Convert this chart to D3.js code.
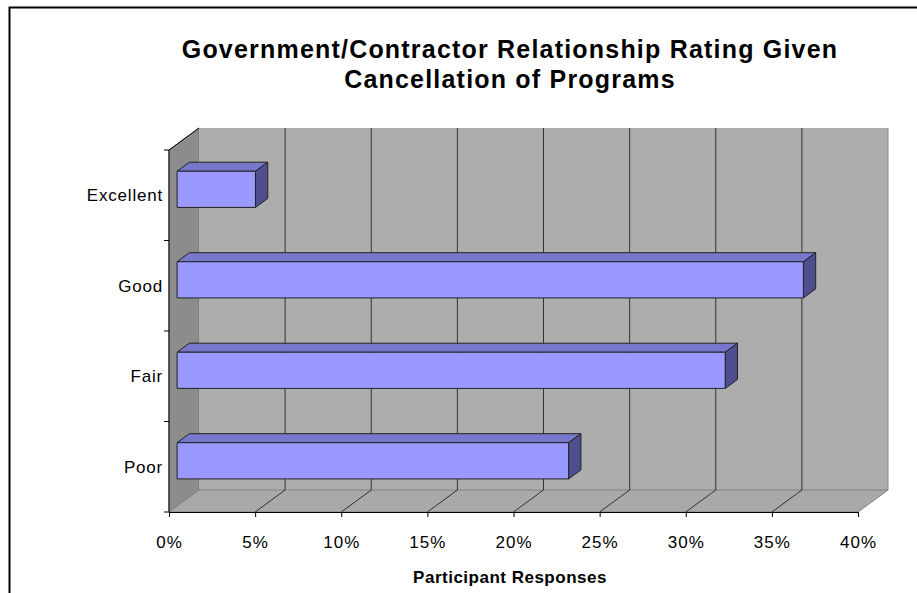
<!DOCTYPE html>
<html>
<head>
<meta charset="utf-8">
<script src="https://cdn.jsdelivr.net/npm/d3@7"></script>
<style>
  body { margin: 0; background: #fff; }
  svg text { font-family: "Liberation Sans", Arial, sans-serif; fill: #000; }
</style>
</head>
<body>
<div class="chart"></div>
<script>
// survey data
var categories = ["Excellent", "Good", "Fair", "Poor"];
var values = [0.0455, 0.3636, 0.3182, 0.2273];
var tickValues = [0, 0.05, 0.10, 0.15, 0.20, 0.25, 0.30, 0.35, 0.40];
var titleLines = ["Government/Contractor Relationship Rating Given", "Cancellation of Programs"];
var axisTitle = "Participant Responses";

var width = 917, height = 593;
var DX = 30, DY = -22;        // depth of the 3d box
var barD0 = 0.27, barD1 = 0.68; // bar depth, as fraction of box depth

var svg = d3.select(".chart").append("svg")
	.attr("width", width)
	.attr("height", height);

var x = d3.scaleLinear().domain([0, 0.4]).range([169, 858]);
var y = d3.scaleBand().domain(categories).range([150, 512]).paddingInner(0).paddingOuter(0);
var barH = y.bandwidth() * 0.4;

function pt(px, py, d) { return [px + d * DX, py + d * DY]; }
function poly(points) { return points.map(function(p){ return p.join(","); }).join(" "); }

// outer frame
svg.append("path")
	.attr("d", "M9.5,593 L9.5,7.5 L917,7.5")
	.attr("fill", "none")
	.attr("stroke", "#000")
	.attr("stroke-width", 2);

var x0 = x.range()[0], x1 = x.range()[1];
var yTop = y.range()[0], yBot = y.range()[1];

// walls
svg.append("polygon")
	.attr("points", poly([pt(x0, yTop, 0), pt(x0, yTop, 1), pt(x0, yBot, 1), pt(x0, yBot, 0)]))
	.attr("fill", "#8c8c8c")
	.attr("stroke", "#777");

svg.append("polygon")
	.attr("points", poly([pt(x0, yTop, 1), pt(x1, yTop, 1), pt(x1, yBot, 1), pt(x0, yBot, 1)]))
	.attr("fill", "#adadad");

svg.append("polygon")
	.attr("points", poly([pt(x0, yBot, 0), pt(x1, yBot, 0), pt(x1, yBot, 1), pt(x0, yBot, 1)]))
	.attr("fill", "#a9a9a9")
	.attr("stroke", "#808080");

// gridlines on the back wall and floor
svg.selectAll(".grid")
	.data(tickValues.slice(1, -1))
	.enter()
	.append("line")
	.attr("class", "grid")
	.attr("x1", function(d){ return x(d) + DX; })
	.attr("x2", function(d){ return x(d) + DX; })
	.attr("y1", yTop + DY)
	.attr("y2", yBot + DY)
	.attr("stroke", "#333");

svg.append("line")
	.attr("x1", x1 + DX).attr("x2", x1 + DX)
	.attr("y1", yTop + DY).attr("y2", yBot + DY)
	.attr("stroke", "#888");

svg.selectAll(".floor")
	.data(tickValues.slice(1, -1))
	.enter()
	.append("line")
	.attr("class", "floor")
	.attr("x1", function(d){ return x(d); })
	.attr("y1", yBot)
	.attr("x2", function(d){ return x(d) + DX; })
	.attr("y2", yBot + DY)
	.attr("stroke", "#111")
	.attr("stroke-width", 0.8);

// left wall top edge
svg.append("line")
	.attr("x1", x0).attr("y1", yTop)
	.attr("x2", x0 + DX).attr("y2", yTop + DY)
	.attr("stroke", "#000");

// bars
var bars = svg.selectAll(".bar")
	.data(categories.map(function(c, i){ return {name: c, value: values[i]}; }))
	.enter()
	.append("g")
	.attr("class", "bar");

function barBox(d) {
	var yc = y(d.name) + y.bandwidth() / 2;
	var t = yc - barH / 2, b = yc + barH / 2;
	var l = x(0), r = x(d.value);
	return {t: t, b: b, l: l, r: r};
}

bars.append("polygon") // top
	.attr("points", function(d){
		var k = barBox(d);
		return poly([pt(k.l, k.t, barD0), pt(k.r, k.t, barD0), pt(k.r, k.t, barD1), pt(k.l, k.t, barD1)]);
	})
	.attr("fill", "#7777cc")
	.attr("stroke", "#222");

bars.append("polygon") // side
	.attr("points", function(d){
		var k = barBox(d);
		return poly([pt(k.r, k.t, barD0), pt(k.r, k.t, barD1), pt(k.r, k.b, barD1), pt(k.r, k.b, barD0)]);
	})
	.attr("fill", "#4f4f8f")
	.attr("stroke", "#222");

bars.append("polygon") // front
	.attr("points", function(d){
		var k = barBox(d);
		return poly([pt(k.l, k.t, barD0), pt(k.r, k.t, barD0), pt(k.r, k.b, barD0), pt(k.l, k.b, barD0)]);
	})
	.attr("fill", "#9999ff")
	.attr("stroke", "#222");

// axes
var xAxis = svg.append("g")
	.attr("transform", "translate(0," + yBot + ")")
	.call(d3.axisBottom(x).tickValues(tickValues).tickSize(5).tickSizeOuter(0).tickPadding(19)
		.tickFormat(d3.format(".0%")));
xAxis.selectAll("path, line").attr("stroke", "#000");
xAxis.selectAll("text")
	.style("font-size", "17px")
	.style("letter-spacing", "1px")
	.style("font-family", "Liberation Sans, Arial, sans-serif");

svg.append("line")
	.attr("x1", x0).attr("x2", x0)
	.attr("y1", yTop).attr("y2", yBot)
	.attr("stroke", "#000");

var bounds = categories.map(function(c){ return y(c); }).concat([yBot]);
svg.selectAll(".ytick")
	.data(bounds)
	.enter()
	.append("line")
	.attr("x1", x0 - 5).attr("x2", x0)
	.attr("y1", function(d){ return d; })
	.attr("y2", function(d){ return d; })
	.attr("stroke", "#000");

svg.selectAll(".ylabel")
	.data(categories)
	.enter()
	.append("text")
	.attr("x", x0 - 6)
	.attr("y", function(d){ return y(d) + y.bandwidth() / 2; })
	.attr("dy", "0.35em")
	.attr("text-anchor", "end")
	.style("font-size", "17px")
	.style("letter-spacing", "0.8px")
	.text(function(d){ return d; });

// titles
svg.selectAll(".title")
	.data(titleLines)
	.enter()
	.append("text")
	.attr("x", 510)
	.attr("y", function(d, i){ return 58 + i * 30; })
	.attr("text-anchor", "middle")
	.style("font-size", "25px")
	.style("letter-spacing", "1.2px")
	.style("font-weight", "bold")
	.text(function(d){ return d; });

svg.append("text")
	.attr("x", 510)
	.attr("y", 583)
	.attr("text-anchor", "middle")
	.style("font-size", "17px")
	.style("letter-spacing", "0.5px")
	.style("font-weight", "bold")
	.text(axisTitle);
</script>
</body>
</html>
